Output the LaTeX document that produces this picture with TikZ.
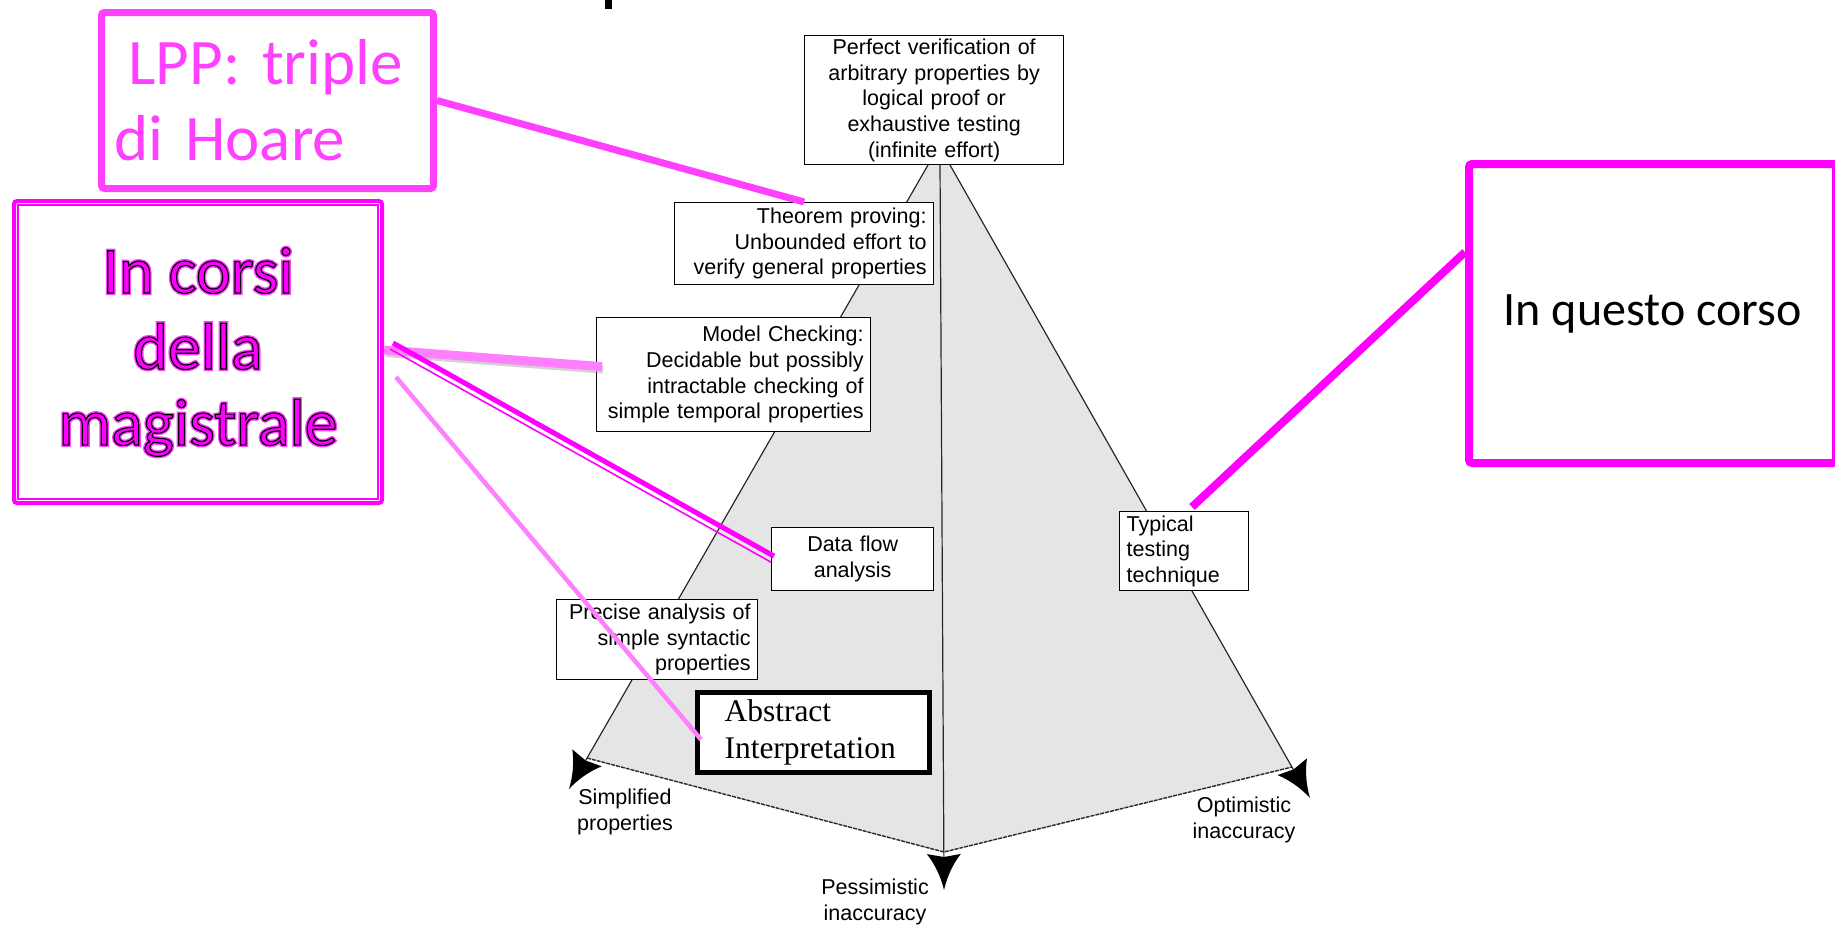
\documentclass[tikz,border=0pt]{standalone}
\usepackage{fontspec}
\newfontfamily\fArial{Liberation Sans}
\newfontfamily\fCal{Carlito}
\newfontfamily\fCalOut[FakeBold=1.8]{Carlito}
\newfontfamily\fCalHalo[FakeBold=6]{Carlito}
\newfontfamily\fTimes{Liberation Serif}
\usetikzlibrary{arrows.meta,calc}
\definecolor{lppc}{RGB}{255,64,255}
\definecolor{mag}{RGB}{255,0,255}
\definecolor{pinkl}{RGB}{255,128,255}
\definecolor{grayfill}{RGB}{229,229,229}
\definecolor{edgec}{RGB}{40,40,40}
\newcommand{\blackstroke}{\special{pdf:literal direct 0 0 0 RG}}
\begin{document}
\begin{tikzpicture}[x=1pt,y=-1pt,
  box/.style={draw=black, fill=white, line width=1.3pt, inner ysep=0pt, inner xsep=7pt,
    anchor=north west, font=\fArial\fontsize{21.5}{25.7}\selectfont},
  lbl/.style={inner sep=0pt, align=center, font=\fArial\fontsize{21.5}{25.7}\selectfont},
  edge/.style={draw=edgec, line width=1.2pt},
  bottomedge/.style={draw=edgec, line width=1.4pt, dash pattern=on 4pt off 1pt},
  corsitxt/.style={inner sep=0pt, align=center},
  annot/.style={line cap=butt},
  arrowhd/.pic={\fill[black] (0,0) .. controls (-13,-3) and (-26,-9) .. (-36,-17) -- (-33,0) -- (-36,17) .. controls (-26,9) and (-13,3) .. (0,0);}
]
\useasboundingbox (0,0) rectangle (1835,924);
% cut-off glyph at the top
\fill[black] (605,0) rectangle (612,9);
% pyramid
\fill[grayfill] (928,165) -- (587,758) -- (944,852) -- (1292,767) -- (950,165) -- cycle;
\draw[bottomedge] (587,758) -- (944,852) -- (1292,767);
\draw[edge] (928,165) -- (575,779);
\draw[edge] (950,165) -- (1305,790);
\draw[edge] (940,164) -- (944,880);
\pic[rotate=-120] at (569,789) {arrowhd};
\pic[rotate=-60.4] at (1310,798) {arrowhd};
\pic[rotate=-89.7] at (944,890) {arrowhd};
% labels at corners
\node[lbl] (simp) at (625,812) {Simplified\\properties};
\node[lbl] (pess) at (875,902) {Pessimistic\\inaccuracy};
\node[lbl] (opt) at (1244,820) {Optimistic\\inaccuracy};
% boxes of the pyramid
\node[box, minimum width=259pt, minimum height=129pt, text width=245pt, align=center] (perf) at (804,35)
  {Perfect verification of\\arbitrary properties by\\logical proof or\\exhaustive testing\\(infinite effort)};
\node[box, minimum width=259pt, minimum height=82pt, text width=245pt, align=right] (thm) at (674,202)
  {Theorem proving:\\Unbounded effort to\\verify general properties};
\node[box, minimum width=274pt, minimum height=114pt, text width=260pt, align=right] (mc) at (596,317)
  {Model Checking:\\Decidable but possibly\\intractable checking of\\simple temporal properties};
\node[box, minimum width=162pt, minimum height=63pt, text width=148pt, align=center] (df) at (771,527)
  {Data flow\\analysis};
\node[box, minimum width=201pt, minimum height=80pt, text width=187pt, align=right] (prec) at (556,599)
  {Precise analysis of\\simple syntactic\\properties};
\node[box, minimum width=129pt, minimum height=79pt, text width=115pt, align=left] (ttt) at (1119,511)
  {Typical\\testing\\technique};
\node[box, line width=5pt, inner xsep=27pt, minimum width=232pt, minimum height=80pt, text width=178pt, align=left,
  font=\fTimes\fontsize{31.5}{37.5}\selectfont] (ai) at (695,690)
  {Abstract\\Interpretation};
% magenta call-out boxes
\node[draw=lppc, line width=7pt, rounded corners=3pt, anchor=north west, minimum width=332pt, minimum height=176pt,
  inner xsep=13pt, inner ysep=0pt, text width=306pt, align=left, text=lppc,
  font=\fCal\fontsize{65}{76}\selectfont] (lpp) at (98,9)
  {\hspace*{14pt}LPP: triple\\di Hoare};
\node[draw=mag, line width=4pt, rounded corners=3pt, anchor=north west, minimum width=368pt, minimum height=302pt,
  inner sep=0pt] (corsi) at (12,199) {};
\draw[mag, line width=1.2pt] ($(corsi.north west)+(6,6)$) rectangle ($(corsi.south east)+(-6,-6)$);
\node[corsitxt, text=mag!75, font=\fCalHalo\fontsize{66}{76}\selectfont] (halo) at (corsi.center) {In corsi\\della\\magistrale};
\node[corsitxt, text=mag, font=\fCalOut\fontsize{66}{76}\selectfont] (ctext) at (corsi.center) {\blackstroke In corsi\\\blackstroke della\\\blackstroke magistrale};
\node[draw=mag, line width=8pt, rounded corners=3pt, anchor=north west, minimum width=367pt, minimum height=299pt,
  inner sep=0pt, font=\fCal\fontsize{48}{58}\selectfont] (iqc) at (1465,160) {In questo corso};
% connectors
\draw[annot, lppc, line width=7pt] (lpp.east) -- (thm.north);
\draw[annot, black!35, opacity=0.5, line width=8pt] ($(corsi.east)+(2,1)$) -- ($(mc.west)+(7,-5)$);
\draw[annot, pinkl, line width=9pt] ($(corsi.east)+(0,-2)$) -- ($(mc.west)+(6,-8)$);
\draw[annot, mag, line width=5pt] ($(corsi.east)+(9,-9)$) -- ($(df.west)+(3,-3)$);
\draw[annot, mag, line width=1.6pt] ($(corsi.east)+(6,-3)$) -- ($(df.west)+(0,3)$);
\draw[annot, pinkl, line width=4.5pt] ($(corsi.east)+(12,25)$) -- ($(ai.west)+(6,7)$);
\draw[annot, mag, line width=8pt] ($(iqc.north west)!0.3!(iqc.south west)$) -- ($(ttt.north west)!0.56!(ttt.north east)+(0,-4)$);
\end{tikzpicture}
\end{document}
